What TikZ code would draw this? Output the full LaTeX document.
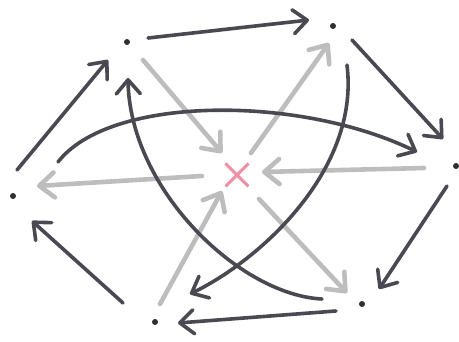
\documentclass[tikz,border=0pt]{standalone}
\usetikzlibrary{arrows.meta,shapes.misc}
\definecolor{darkc}{HTML}{4A4951}
\definecolor{grayc}{HTML}{BDBDBD}
\definecolor{dotc}{HTML}{2E2E33}
\definecolor{pinkc}{HTML}{EE8FA3}
\tikzset{
  dot/.style={circle, fill=dotc, inner sep=0pt, minimum size=6pt},
  center/.style={cross out, draw=pinkc, line width=3pt, inner sep=0pt, minimum size=20pt},
  darr/.style={draw=darkc, line width=3.6pt, line cap=round, line join=round,
    -{Straight Barb[round,length=14pt,width=24pt,line width=3.6pt]}},
  garr/.style={draw=grayc, line width=4.6pt, line cap=round, line join=round,
    -{Straight Barb[round,length=15pt,width=25pt,line width=4.6pt]}}
}
\begin{document}
\begin{tikzpicture}[x=1pt,y=-1pt]
\useasboundingbox (0,0) rectangle (459,342);
\node[dot] (A) at (127,42) {};
\node[dot] (B) at (333,26) {};
\node[dot] (C) at (456,166) {};
\node[dot] (D) at (362,304) {};
\node[dot] (E) at (155,322) {};
\node[dot] (F) at (13,196) {};
\node[center] (X) at (237,175) {};
% light grey arrows to and from the centre
\draw[garr] ([shift={(16,18)}]A.center) -- ([shift={(-15,-22)}]X.center);
\draw[garr] ([shift={(14,-22)}]X.center) -- ([shift={(-4,17)}]B.center);
\draw[garr] ([shift={(-32,2)}]C.center) -- ([shift={(25,-3)}]X.center);
\draw[garr] ([shift={(-35,1)}]X.center) -- ([shift={(24,-10)}]F.center);
\draw[garr] ([shift={(5,-18)}]E.center) -- ([shift={(-15,16)}]X.center);
\draw[garr] ([shift={(22,24)}]X.center) -- ([shift={(-15,-11)}]D.center);
% dark outer ring
\draw[darr] ([shift={(21,-4)}]A.center) -- ([shift={(-24,-6)}]B.center);
\draw[darr] ([shift={(19,14)}]B.center) -- ([shift={(-13,-27)}]C.center);
\draw[darr] ([shift={(-9,20)}]C.center) -- ([shift={(17,-15)}]D.center);
\draw[darr] ([shift={(-26,7)}]D.center) -- ([shift={(23,1)}]E.center);
\draw[darr] ([shift={(-32,-19)}]E.center) -- ([shift={(19,25)}]F.center);
\draw[darr] ([shift={(4,-26)}]F.center) -- ([shift={(-19,18)}]A.center);
% dark long curves
\draw[darr] ([shift={(45,-34)}]F.center) .. controls (110,95) and (300,95) .. ([shift={(-39,-14)}]C.center);
\draw[darr] ([shift={(14,39)}]B.center) .. controls (360,170) and (260,260) .. ([shift={(35,-28)}]E.center);
\draw[darr] ([shift={(-40,-5)}]D.center) .. controls (240,295) and (130,190) .. ([shift={(1,36)}]A.center);
\end{tikzpicture}
\end{document}
